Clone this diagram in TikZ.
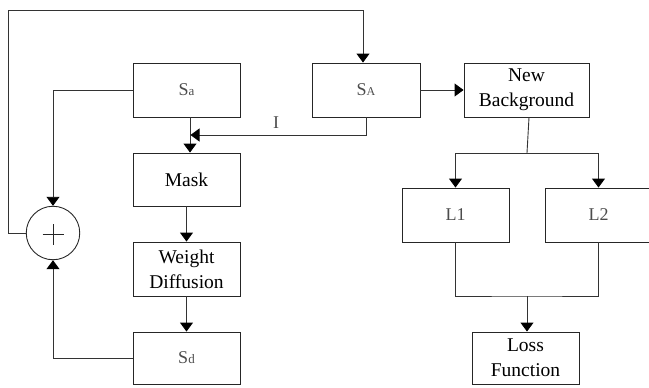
\documentclass[tikz,border=0pt]{standalone}
\usepackage{fontspec}
\setmainfont{Liberation Serif}
\usetikzlibrary{arrows.meta,calc}
\begin{document}
\begin{tikzpicture}[x=1pt,y=-1pt,
  box/.style={draw=black!85,line width=0.9pt,rectangle,minimum width=107pt,minimum height=54pt,inner sep=0pt,align=center,font=\rmfamily\fontsize{19.5}{25}\selectfont},
  lbl/.style={text=black!70},
  conn/.style={draw=black!80,line width=0.9pt},
  arr/.style={conn,-{Triangle[width=13pt,length=9pt,color=black]}}]
\useasboundingbox (0,0) rectangle (649,388);
\node[box,lbl] (Sa) at (186.5,90) {\fontsize{18}{20}\selectfont S\fontsize{13}{15}\selectfont a};
\node[box,lbl,minimum width=108pt] (SA) at (366,90) {\fontsize{18}{20}\selectfont S\fontsize{12}{14}\selectfont A};
\node[box,minimum width=125pt] (NB) at (526.5,90) {New\\Background};
\node[box,minimum height=53pt] (Mask) at (186.5,179.5) {Mask};
\node[box] (WD) at (186.5,269) {Weight\\Diffusion};
\node[box,lbl,minimum height=52pt] (Sd) at (186.5,358) {\fontsize{18}{20}\selectfont S\fontsize{13}{15}\selectfont d};
\node[draw=black!85,line width=0.9pt,circle,minimum size=53.5pt,inner sep=0pt] (plus) at (53,233) {};
\draw[black!85,line width=0.9pt] ($(plus.center)+(-10.5,1.5)$) -- ($(plus.center)+(10.5,1.5)$)
  ($(plus.center)+(0,-9)$) -- ($(plus.center)+(0,12)$);
\node[box,lbl,font=\rmfamily\fontsize{18}{20}\selectfont] (L1) at (455.5,215) {L1};
\node[box,lbl,font=\rmfamily\fontsize{18}{20}\selectfont] (L2) at (598.5,215) {L2};
\node[box,minimum height=52pt] (Loss) at (525.5,358) {Loss\\Function};
\node[lbl,font=\rmfamily\fontsize{18}{20}\selectfont,inner sep=0pt] (I) at (276,123) {I};
% coordinates
\coordinate (tl) at (8,10);
\coordinate (tr) at (363,10);
\coordinate (j) at (190,135);
\coordinate (jr) at (366,135);
\coordinate (b) at (527,153);
\coordinate (m) at (527,296);
% connectors
\draw[arr] (plus.west) -| (tl) -- (tr) -- (SA.north -| tr);
\draw[arr] (Sa.west) -| (plus.north);
\draw[arr] (Sd.west) -| (plus.south);
\draw[arr] (Sa.south -| j) -- (Mask.north -| j);
\draw[arr] (SA.south) -- (jr) -- ($(j)+(0.5,0)$);
\draw[arr] (SA.east) -- (NB.west);
\draw[conn] (NB.south -| 529,0) -- (b);
\draw[arr] (b) -| (L1.north);
\draw[arr] (b) -| (L2.north);
\draw[conn] (L1.south) |- (m) -| (L2.south);
\draw[arr] (m) -- (Loss.north -| m);
\draw[arr] (Mask.south) -- (WD.north);
\draw[arr] (WD.south) -- (Sd.north);
\end{tikzpicture}
\end{document}
